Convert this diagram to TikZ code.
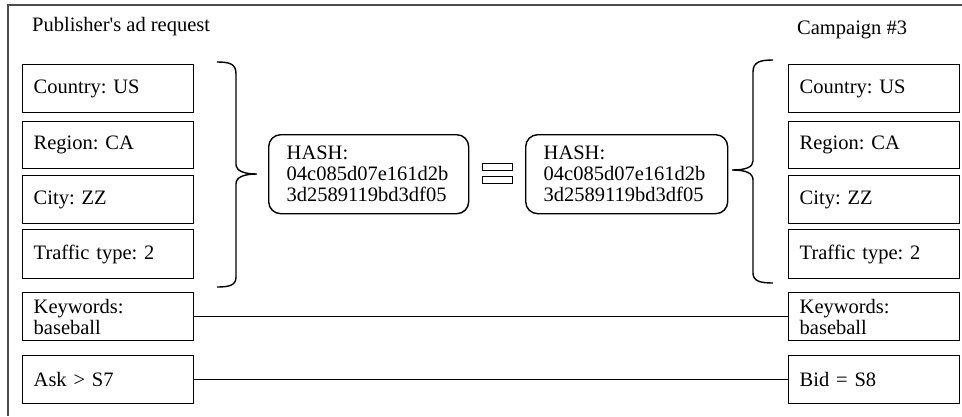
\documentclass[tikz,border=0pt]{standalone}
\usepackage{fontspec}
\setmainfont{Liberation Serif}
\frenchspacing
\begin{document}
\begin{tikzpicture}[x=1pt,y=-1pt,font=\fontsize{20.5}{21}\selectfont,
  field/.style={draw,line width=1.4pt,anchor=north west,text width=149pt,inner xsep=11pt,inner ysep=2pt,align=left},
  hashbox/.style={draw,line width=1.4pt,rounded corners=12pt,anchor=north west,minimum height=79pt,inner xsep=18pt,align=left},
  curly/.style={line width=1.4pt}]
  \useasboundingbox (0,0) rectangle (962,416);
  \draw[line width=1.3pt,black!70] (962,5) -- (8,5) -- (8,416);
  % headings
  \node[anchor=west,inner sep=0pt] (pubhead) at (32,27) {Publisher\textquotesingle s ad request};
  \node[anchor=west,inner sep=0pt] (camphead) at (797,30) {Campaign \#3};
  % publisher fields
  \node[field,minimum height=48pt] (lcountry) at (22,64) {Country: US};
  \node[field,minimum height=47pt] (lregion) at (22,121) {Region: CA};
  \node[field,minimum height=48pt] (lcity) at (22,175) {City: ZZ};
  \node[field,minimum height=49pt] (ltraffic) at (22,229) {Traffic type: 2};
  \node[field,minimum height=48pt] (lkeywords) at (22,292) {Keywords:\\baseball};
  \node[field,minimum height=48pt] (lask) at (22,355) {Ask > S7};
  % campaign fields
  \node[field,minimum height=48pt] (rcountry) at (788,64) {Country: US};
  \node[field,minimum height=47pt] (rregion) at (788,121) {Region: CA};
  \node[field,minimum height=48pt] (rcity) at (788,175) {City: ZZ};
  \node[field,minimum height=49pt] (rtraffic) at (788,229) {Traffic type: 2};
  \node[field,minimum height=48pt] (rkeywords) at (788,292) {Keywords:\\baseball};
  \node[field,minimum height=48pt] (rbid) at (788,355) {Bid = S8};
  % hashes
  \node[hashbox,text width=164pt] (lhash) at (268,134) {HASH:\\04c085d07e161d2b\\3d2589119bd3df05};
  \node[hashbox,text width=166pt] (rhash) at (525,134) {HASH:\\04c085d07e161d2b\\3d2589119bd3df05};
  \draw[line width=0.9pt] (482,163) rectangle (512,170);
  \draw[line width=0.9pt] (482,176) rectangle (512,183);
  % braces
  \draw[curly] (217,62) .. controls (230,62) and (236,64) .. (236,74) -- (236,164)
    .. controls (236,171) and (244,174) .. (257,174) .. controls (244,174) and (236,177) .. (236,184)
    -- (236,277) .. controls (236,285) and (230,287) .. (217,287);
  \draw[curly] (773,60) .. controls (760,60) and (753,62) .. (753,72) -- (753,161)
    .. controls (753,167) and (746,170) .. (732,170) .. controls (746,170) and (753,173) .. (753,180)
    -- (753,273) .. controls (753,281) and (760,283) .. (773,283);
  % matches
  \draw[line width=1.4pt] (lkeywords) -- (rkeywords);
  \draw[line width=1.4pt] (lask) -- (rbid);
\end{tikzpicture}
\end{document}
